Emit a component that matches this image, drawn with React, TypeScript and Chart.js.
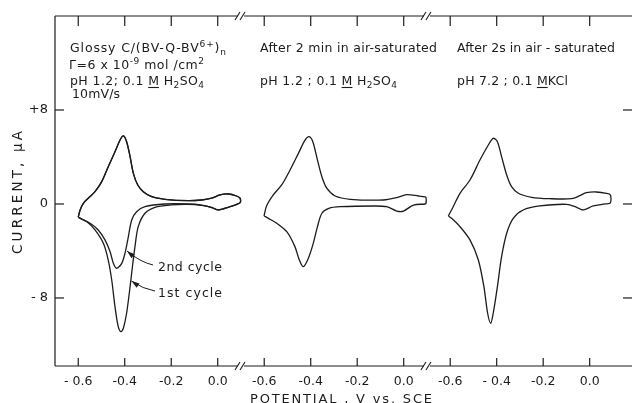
import React, { useEffect, useRef } from 'react';
import { Chart, registerables } from 'chart.js';

Chart.register(...registerables);

// ---------- axis / tick data ----------
const PANEL_OFFSETS = [0, 0.8, 1.6]; // broken x-axis: each panel spans -0.7 .. +0.1 V
const LOCAL_TICKS = [-0.6, -0.4, -0.2, 0.0];
const X_TICK_LABELS = ['- 0.6', '-0.4', '-0.2', '0.0', '-0.6', '-0.4', '-0.2', '0.0', '-0.6', '- 0.4', '-0.2', '0.0'];
const Y_TICKS = [-8, 0, 8];
const Y_TICK_LABELS = ['- 8', '0', '+8'];
const X_MIN = -0.7;
const X_MAX = 1.782;
const Y_MIN = -13.79;
const Y_MAX = 16.0;
const BREAKS = [0.1, 0.9];

// ---------- panel 1 : Glossy C/(BV-Q-BV6+)n, pH 1.2 ----------
const P1_UP_V = [-0.600, -0.592, -0.578, -0.557, -0.528, -0.499, -0.471, -0.442, -0.420, -0.406, -0.392, -0.377, -0.363, -0.344, -0.320, -0.284, -0.227, -0.127, -0.069, -0.026, 0.010, 0.045, 0.081, 0.096];
const P1_UP_I = [-1.13, -0.51, 0.06, 0.49, 1.05, 1.90, 3.17, 4.45, 5.45, 5.79, 5.30, 4.03, 2.61, 1.62, 1.05, 0.62, 0.40, 0.28, 0.34, 0.49, 0.77, 0.85, 0.68, 0.50];
const P1_LO2_V = [0.096, 0.045, 0.002, -0.026, -0.069, -0.127, -0.227, -0.313, -0.349, -0.370, -0.387, -0.399, -0.413, -0.435, -0.449, -0.463, -0.485, -0.514, -0.549, -0.585, -0.600];
const P1_LO2_I = [0.10, -0.28, -0.51, -0.28, -0.09, 0.0, 0.0, -0.23, -0.66, -1.36, -3.06, -4.20, -5.05, -5.47, -5.05, -4.06, -3.06, -2.21, -1.64, -1.30, -1.13];
const P1_LO1_V = [0.096, 0.045, 0.002, -0.026, -0.069, -0.127, -0.200, -0.270, -0.313, -0.342, -0.356, -0.367, -0.377, -0.392, -0.406, -0.416, -0.428, -0.442, -0.456, -0.471, -0.492, -0.528, -0.564, -0.600];
const P1_LO1_I = [0.10, -0.28, -0.51, -0.30, -0.12, -0.03, -0.08, -0.28, -0.79, -1.93, -3.63, -5.34, -7.04, -9.30, -10.58, -10.87, -10.44, -8.74, -6.47, -4.77, -3.35, -2.21, -1.50, -1.13];

// ---------- panel 2 : after 2 min in air-saturated pH 1.2 ----------
const P2_UP_V = [-0.601, -0.590, -0.561, -0.525, -0.489, -0.453, -0.424, -0.407, -0.391, -0.371, -0.352, -0.331, -0.295, -0.230, -0.087, -0.030, 0.013, 0.063, 0.092, 0.096];
const P2_UP_I = [-1.02, -0.17, 0.77, 1.62, 2.89, 4.31, 5.45, 5.73, 5.30, 3.74, 2.32, 1.34, 0.68, 0.40, 0.34, 0.54, 0.79, 0.68, 0.60, 0.55];
const P2_LO_V = [0.096, 0.092, 0.042, -0.001, -0.030, -0.073, -0.130, -0.272, -0.322, -0.352, -0.371, -0.389, -0.410, -0.432, -0.449, -0.468, -0.503, -0.546, -0.582, -0.601];
const P2_LO_I = [0.05, 0.0, -0.09, -0.60, -0.60, -0.23, -0.17, -0.23, -0.37, -0.79, -1.93, -3.35, -4.62, -5.34, -4.77, -3.63, -2.36, -1.64, -1.22, -1.02];

// ---------- panel 3 : after 2 s in air-saturated pH 7.2 ----------
const P3_UP_V = [-0.608, -0.587, -0.558, -0.515, -0.472, -0.436, -0.415, -0.397, -0.379, -0.357, -0.336, -0.307, -0.250, -0.172, -0.078, -0.042, -0.014, 0.029, 0.072, 0.089];
const P3_UP_I = [-1.02, -0.23, 0.91, 2.04, 3.74, 5.02, 5.59, 5.30, 4.03, 2.47, 1.47, 0.91, 0.57, 0.45, 0.45, 0.71, 0.96, 1.02, 0.91, 0.77];
const P3_LO_V = [0.089, 0.067, 0.015, -0.028, -0.056, -0.099, -0.214, -0.286, -0.329, -0.357, -0.379, -0.397, -0.415, -0.426, -0.439, -0.455, -0.479, -0.515, -0.558, -0.594, -0.608];
const P3_LO_I = [0.10, 0.0, -0.17, -0.51, -0.28, -0.03, -0.17, -0.51, -1.22, -2.49, -4.49, -7.04, -9.30, -10.15, -9.30, -7.04, -4.77, -3.06, -1.93, -1.22, -1.02];

const INK = '#1c1c1c';
const FONT = '"DejaVu Sans", sans-serif';

type Pt = { x: number; y: number };
function loop(off: number, upV: number[], upI: number[], loV: number[], loI: number[]): Pt[] {
  const pts: Pt[] = [];
  upV.forEach((v, i) => pts.push({ x: v + off, y: upI[i] }));
  loV.forEach((v, i) => pts.push({ x: v + off, y: loI[i] }));
  return pts;
}

type Seg = { t: string; k?: 'sup' | 'sub'; u?: boolean };

function drawRich(ctx: CanvasRenderingContext2D, segs: Seg[], x: number, base: number, size: number, targetW?: number) {
  const fontFor = (k?: string) => `${k ? size * 0.72 : size}px ${FONT}`;
  const anyCtx = ctx as any;
  let w = 0;
  let n = 0;
  anyCtx.letterSpacing = '0px';
  for (const s of segs) {
    ctx.font = fontFor(s.k);
    w += ctx.measureText(s.t).width;
    n += [...s.t].length;
  }
  const ls = targetW ? Math.max(0, (targetW - w) / Math.max(1, n - 1)) : 0;
  let cx = x;
  ctx.textAlign = 'left';
  ctx.textBaseline = 'alphabetic';
  for (const s of segs) {
    ctx.font = fontFor(s.k);
    anyCtx.letterSpacing = '0px';
    const bw = ctx.measureText(s.t).width;
    anyCtx.letterSpacing = `${ls}px`;
    const dy = s.k === 'sup' ? -size * 0.42 : s.k === 'sub' ? size * 0.22 : 0;
    ctx.fillText(s.t, cx, base + dy);
    const sw = bw + ls * [...s.t].length;
    if (s.u) {
      ctx.save();
      ctx.lineWidth = 1.1;
      ctx.beginPath();
      ctx.moveTo(cx, base + 2.5);
      ctx.lineTo(cx + bw, base + 2.5);
      ctx.stroke();
      ctx.restore();
    }
    cx += sw;
  }
  anyCtx.letterSpacing = '0px';
}

function arrow(ctx: CanvasRenderingContext2D, fx: number, fy: number, cxp: number, cyp: number, tx: number, ty: number) {
  ctx.beginPath();
  ctx.moveTo(fx, fy);
  ctx.quadraticCurveTo(cxp, cyp, tx, ty);
  ctx.stroke();
  const ang = Math.atan2(ty - cyp, tx - cxp);
  const L = 8;
  const W = 2.6;
  ctx.beginPath();
  ctx.moveTo(tx, ty);
  ctx.lineTo(tx - L * Math.cos(ang) + W * Math.sin(ang), ty - L * Math.sin(ang) - W * Math.cos(ang));
  ctx.lineTo(tx - L * Math.cos(ang) - W * Math.sin(ang), ty - L * Math.sin(ang) + W * Math.cos(ang));
  ctx.closePath();
  ctx.fill();
}

const framePlugin = {
  id: 'frame',
  afterDraw(chart: any) {
    const { ctx, chartArea: a, scales } = chart;
    const x = scales.x;
    const y = scales.y;
    ctx.save();
    ctx.strokeStyle = INK;
    ctx.fillStyle = INK;
    ctx.lineWidth = 1.2;
    const seg = (x1: number, y1: number, x2: number, y2: number) => {
      ctx.beginPath();
      ctx.moveTo(x1, y1);
      ctx.lineTo(x2, y2);
      ctx.stroke();
    };
    // left axis
    seg(a.left, a.top, a.left, a.bottom);
    // top & bottom axes with break marks
    const bxs = BREAKS.map((b) => x.getPixelForValue(b));
    for (const yy of [a.top, a.bottom]) {
      let start = a.left;
      for (const b of bxs) {
        seg(start, yy, b - 3, yy);
        start = b + 3;
      }
      seg(start, yy, a.right, yy);
      ctx.lineWidth = 1.1;
      for (const b of bxs) {
        seg(b - 6, yy + 4, b - 1, yy - 4);
        seg(b - 1, yy + 4, b + 4, yy - 4);
      }
      ctx.lineWidth = 1.2;
    }
    // inward ticks
    for (const t of x.ticks) {
      const px = x.getPixelForValue(t.value);
      seg(px, a.bottom, px, a.bottom - 8);
      seg(px, a.top, px, a.top + 10);
    }
    for (const t of y.ticks) {
      const py = y.getPixelForValue(t.value);
      seg(a.left, py, a.left + 9, py);
      seg(a.right - 9, py, a.right, py);
    }

    // annotations
    ctx.lineWidth = 1;
    drawRich(ctx, [{ t: 'Glossy C/(BV-Q-BV' }, { t: '6+', k: 'sup' }, { t: ')' }, { t: 'n', k: 'sub' }], 70, 52, 12.5, 156);
    drawRich(ctx, [{ t: 'Γ=6 x 10' }, { t: '-9', k: 'sup' }, { t: ' mol /cm' }, { t: '2', k: 'sup' }], 69, 69, 12.5, 135);
    drawRich(ctx, [{ t: 'pH 1.2; 0.1 ' }, { t: 'M', u: true }, { t: ' H' }, { t: '2', k: 'sub' }, { t: 'SO' }, { t: '4', k: 'sub' }], 70, 85, 12.5, 134);
    drawRich(ctx, [{ t: '10mV/s' }], 72, 98, 12.5, 48);

    drawRich(ctx, [{ t: 'After 2 min in air-saturated' }], 260, 52, 12.5, 177);
    drawRich(ctx, [{ t: 'pH 1.2 ; 0.1 ' }, { t: 'M', u: true }, { t: ' H' }, { t: '2', k: 'sub' }, { t: 'SO' }, { t: '4', k: 'sub' }], 260, 85, 12.5, 137);

    drawRich(ctx, [{ t: 'After 2s in air - saturated' }], 457, 52, 12.5, 158);
    drawRich(ctx, [{ t: 'pH 7.2 ; 0.1 ' }, { t: 'M', u: true }, { t: 'KCl' }], 457, 85, 12.5, 111);

    drawRich(ctx, [{ t: '2nd cycle' }], 158, 271, 12.5, 64);
    drawRich(ctx, [{ t: '1st cycle' }], 158, 297, 12.5, 64);
    ctx.lineWidth = 1;
    arrow(ctx, 153, 265, 140, 262, 127, 251);
    arrow(ctx, 155, 291, 143, 289, 131.5, 281);

    // axis titles
    ctx.save();
    ctx.translate(22, 193);
    ctx.rotate(-Math.PI / 2);
    drawRich(ctx, [{ t: 'CURRENT, μA' }], -61, 0, 13.5, 123);
    ctx.restore();
    drawRich(ctx, [{ t: 'POTENTIAL , V vs. SCE' }], 250, 403, 13, 182);

    ctx.restore();
  },
};

export default function App() {
  const ref = useRef<HTMLCanvasElement | null>(null);
  useEffect(() => {
    document.body.style.margin = '0';
    const canvas = ref.current;
    if (!canvas) return;
    const xTickValues: number[] = [];
    PANEL_OFFSETS.forEach((o) => LOCAL_TICKS.forEach((t) => xTickValues.push(+(t + o).toFixed(3))));
    const line = (data: Pt[]) => ({
      data,
      showLine: true,
      borderColor: INK,
      borderWidth: 1.3,
      pointRadius: 0,
      tension: 0.3,
      fill: false,
    });
    const chart = new Chart(canvas, {
      type: 'scatter',
      data: {
        datasets: [
          line(loop(PANEL_OFFSETS[0], P1_UP_V, P1_UP_I, P1_LO1_V, P1_LO1_I)),
          line(loop(PANEL_OFFSETS[0], P1_UP_V, P1_UP_I, P1_LO2_V, P1_LO2_I)),
          line(loop(PANEL_OFFSETS[1], P2_UP_V, P2_UP_I, P2_LO_V, P2_LO_I)),
          line(loop(PANEL_OFFSETS[2], P3_UP_V, P3_UP_I, P3_LO_V, P3_LO_I)),
        ] as any,
      },
      options: {
        responsive: false,
        animation: false,
        devicePixelRatio: 1,
        layout: { padding: { top: 16, right: 0, left: 0, bottom: 0 } },
        plugins: { legend: { display: false }, tooltip: { enabled: false } },
        scales: {
          x: {
            type: 'linear',
            min: X_MIN,
            max: X_MAX,
            afterBuildTicks: (s: any) => {
              s.ticks = xTickValues.map((v) => ({ value: v }));
            },
            afterFit: (s: any) => {
              s.height = 37;
            },
            ticks: {
              autoSkip: false,
              maxRotation: 0,
              padding: 8,
              color: INK,
              font: { family: FONT, size: 12.5 },
              callback: (_v: any, i: number) => X_TICK_LABELS[i],
            },
            grid: { display: false, drawTicks: false },
            border: { display: false },
          },
          y: {
            type: 'linear',
            min: Y_MIN,
            max: Y_MAX,
            afterBuildTicks: (s: any) => {
              s.ticks = Y_TICKS.map((v) => ({ value: v }));
            },
            afterFit: (s: any) => {
              s.width = 55;
            },
            ticks: {
              autoSkip: false,
              padding: 7,
              color: INK,
              font: { family: FONT, size: 13 },
              callback: (_v: any, i: number) => Y_TICK_LABELS[i],
            },
            grid: { display: false, drawTicks: false },
            border: { display: false },
          },
        },
      } as any,
      plugins: [framePlugin],
    });
    return () => chart.destroy();
  }, []);
  return <canvas ref={ref} width={632} height={403} style={{ display: 'block', width: 632, height: 403 }} />;
}
